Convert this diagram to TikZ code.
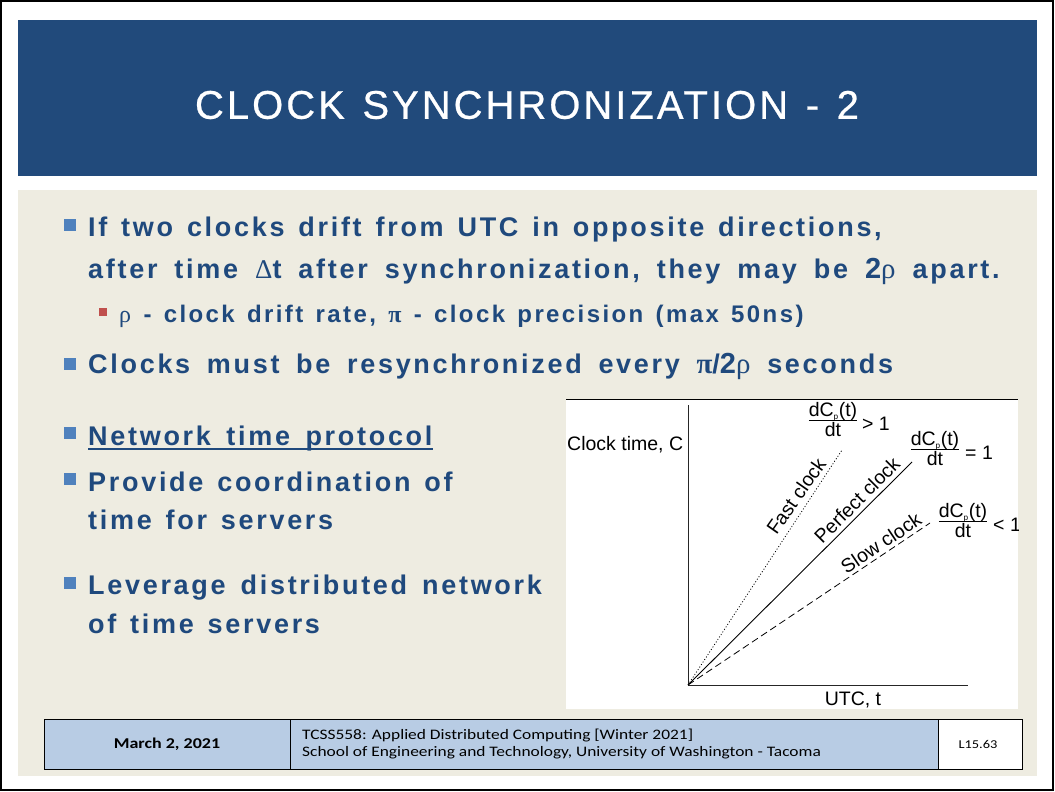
\documentclass[tikz,border=0pt]{standalone}
\usepackage{fontspec}
\setmainfont{Liberation Sans}
\newfontfamily\bodyf{Liberation Sans}[LetterSpace=10, WordSpace=1.36]
\newfontfamily\titlef{Liberation Sans}[LetterSpace=7.5, WordSpace=1.25, FakeBold=0.6]
\newfontfamily\grkf{Liberation Serif}
\newfontfamily\footf{Carlito}[FakeStretch=1.2]
\usetikzlibrary{calc}

\definecolor{band}{RGB}{33,74,123}
\definecolor{paper}{RGB}{238,236,225}
\definecolor{ink}{RGB}{31,73,125}
\definecolor{bulc}{RGB}{79,129,189}
\definecolor{subbulc}{RGB}{192,80,77}
\definecolor{footc}{RGB}{184,204,228}

% derivative dC_p(t)/dt set as a small stacked fraction
\newcommand\rateexpr{\begin{tabular}{@{}c@{}}dC\textsubscript{\scalebox{0.6}{p}}(t)\\[-3pt]\hline\rule{0pt}{16pt}dt\end{tabular}}
% larger Greek and digit glyphs used inside the bullet text
\newcommand\bigtwo{{\fontsize{29}{33}\selectfont 2}}
\newcommand\grho{{\grkf\mdseries\fontsize{29}{33}\selectfont ρ}}
\newcommand\gpi{{\grkf\fontsize{29}{33}\selectfont π}}

\tikzset{
  bulsq/.style={fill=bulc, minimum size=12pt, inner sep=0pt},
  subsq/.style={fill=subbulc, minimum size=8pt, inner sep=0pt},
  txt/.style={anchor=base west, inner sep=0pt, text=ink,
    font=\bodyf\bfseries\fontsize{27}{33}\selectfont},
  widetxt/.style={txt, execute at begin node={\spaceskip=#1\relax}},
  subtxt/.style={txt, font=\bodyf\bfseries\fontsize{24}{29}\selectfont},
  glabel/.style={inner sep=0pt, font=\fontsize{19.5}{23}\selectfont},
  footcell/.style={draw=black, line width=0.8pt},
}

\begin{document}
\begin{tikzpicture}[x=1pt,y=-1pt]
\useasboundingbox (0,0) rectangle (1055,792);
\fill[white] (0,0) rectangle (1055,792);
\draw[line width=1.5pt] (1,1) rectangle (1053,790);

% title band
\fill[band] (18,20) rectangle (1037,176);
\node[white, inner sep=0pt, font=\titlef\fontsize{40}{48}\selectfont] (title) at (527,105) {CLOCK SYNCHRONIZATION - 2};

% body panel
\fill[paper] (18,190) rectangle (1037,776);

% bullet list
\node[bulsq] (b1) at (70,224.5) {};
\node[txt] (l1) at (88,236) {If two clocks drift from UTC in opposite directions,};
\node[widetxt=17pt] (l2) at (88,278) {after time {\grkf\mdseries Δ}t after synchronization, they may be \bigtwo\grho{} apart.};
\node[subsq] (b1a) at (103,312) {};
\node[subtxt] (s1) at (119,322) {{\grkf\mdseries ρ} - clock drift rate, {\grkf π} - clock precision (max 50ns)};
\node[bulsq] (b2) at (70,364) {};
\node[widetxt=16.7pt] (l3) at (88,373) {Clocks must be resynchronized every \gpi/\bigtwo\grho{} seconds};
\node[bulsq] (b3) at (70,433) {};
\node[widetxt=15.5pt] (l4) at (88,445) {Network time protocol};
\draw[ink, line width=2pt] ($(l4.base west)+(0,3.5)$) -- ($(l4.base east)+(0,3.5)$);
\node[bulsq] (b4) at (70,479) {};
\node[txt] (l5) at (88,491) {Provide coordination of};
\node[txt] (l6) at (88,529) {time for servers};
\node[bulsq] (b5) at (70,583) {};
\node[widetxt=15pt] (l7) at (88,594) {Leverage distributed network};
\node[txt] (l8) at (88,633) {of time servers};

% clock drift chart
\fill[white] (566,399) rectangle (1018,709);
\draw[line width=0.8pt] (566,399) -- (1018,399);
\begin{scope}
\clip (566,399) rectangle (1018,709);
\coordinate (O) at (688,685);
\coordinate (ytop) at (688,405);
\coordinate (xend) at (968,685);
\coordinate (fast) at (842,450);
\coordinate (perf) at (912,462);
\coordinate (slow) at (930,523);
\draw[line width=0.9pt, black!85] (ytop) -- (O) -- (xend);
\draw[line width=0.8pt, dash pattern=on 1pt off 2pt] (O) -- (fast);
\draw[line width=0.9pt] (O) -- (perf);
\draw[line width=0.8pt, dash pattern=on 7pt off 4pt] (O) -- (slow);
\node[glabel, anchor=west] (ylab) at (567,445) {Clock time, C};
\node[glabel] (xlab) at (853,700) {UTC, t};
\node[glabel, rotate=55] (fastlab) at (796,496) {Fast clock};
\node[glabel, rotate=45] (perflab) at (857,500) {Perfect clock};
\node[glabel, rotate=34] (slowlab) at (881,543) {Slow clock};
\node[glabel] (fr1) at (833,422) {\rateexpr};
\node[glabel, anchor=west] (rel1) at (862,424) {> 1};
\node[glabel] (fr2) at (935,451) {\rateexpr};
\node[glabel, anchor=west] (rel2) at (965,453) {= 1};
\node[glabel] (fr3) at (963,523) {\rateexpr};
\node[glabel, anchor=west] (rel3) at (993,525) {< 1};
\end{scope}

% footer table
\draw[footcell, fill=footc] (44,719) rectangle (1022,769);
\draw[footcell, fill=white] (938,719) rectangle (1022,769);
\draw[footcell] (290,719) -- (290,769);
\node[inner sep=0pt, font=\footf\bfseries\fontsize{15}{18}\selectfont] (date) at (167,744) {March 2, 2021};
\node[inner sep=0pt, anchor=west, align=left, font=\footf\fontsize{14.5}{17.5}\selectfont] (course) at (302,744)
  {TCSS558: Applied Distributed Computing [Winter 2021]\\School of Engineering and Technology, University of Washington - Tacoma};
\node[inner sep=0pt, font=\footf\fontsize{12}{14}\selectfont] (slide) at (978,744) {L15.63};
\end{tikzpicture}
\end{document}
